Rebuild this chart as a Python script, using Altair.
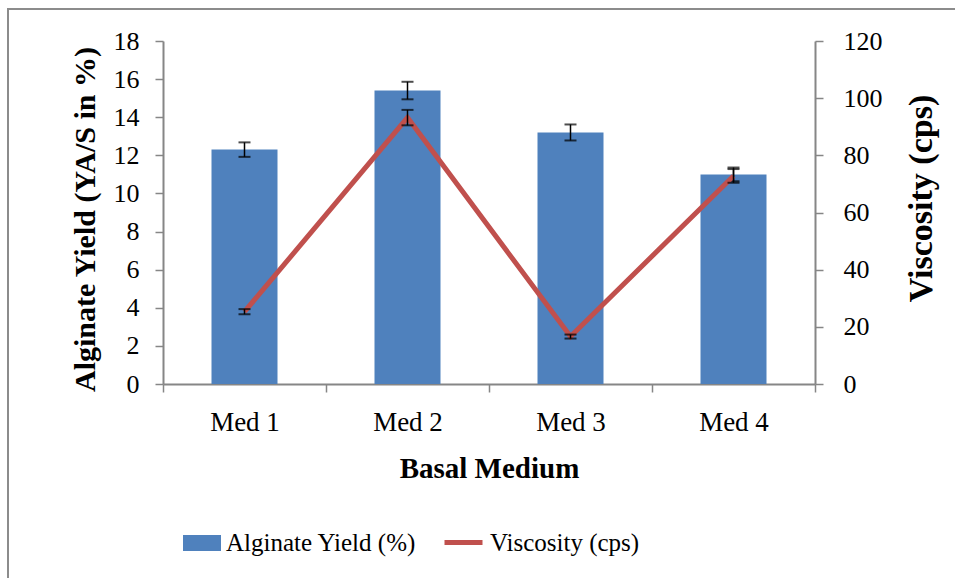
import altair as alt
import pandas as pd

categories = ["Med 1", "Med 2", "Med 3", "Med 4"]
yield_vals = [12.3, 15.4, 13.2, 11.0]
yield_err = [0.38, 0.46, 0.42, 0.36]
visc_vals = [25.3, 93.2, 16.6, 72.8]
visc_err = [0.9, 2.7, 0.7, 2.4]
yield_ticks = [0, 2, 4, 6, 8, 10, 12, 14, 16, 18]
visc_ticks = [0, 20, 40, 60, 80, 100, 120]

df = pd.DataFrame({
    "med": categories,
    "yield": yield_vals,
    "ylo": [v - e for v, e in zip(yield_vals, yield_err)],
    "yhi": [v + e for v, e in zip(yield_vals, yield_err)],
    "visc": visc_vals,
    "vlo": [v - e for v, e in zip(visc_vals, visc_err)],
    "vhi": [v + e for v, e in zip(visc_vals, visc_err)],
    "s1": "Alginate Yield (%)",
    "s2": "Viscosity (cps)",
})

FONT = "Liberation Serif"
AX = "#868686"
BLUE = "#4F81BD"
RED = "#C0504D"

x_axis = alt.Axis(
    title="Basal Medium", labelAngle=0, tickBand="extent",
    titleX=326, titleY=84, titleBaseline="middle", titleAnchor="middle",
    labelPadding=17, labelFontSize=27,
)
x_scale = alt.Scale(paddingInner=0, paddingOuter=0)


def xe():
    return alt.X("med:N", sort=categories, scale=x_scale, axis=x_axis)


left_axis = alt.Axis(
    title="Alginate Yield (YA/S  in %)", values=yield_ticks,
    titleX=-78, titleY=178, titleAngle=270, titleBaseline="middle",
    titleAlign="center", titleFontSize=30, labelOverlap=False,
    labelPadding=16,
)
left_scale = alt.Scale(domain=[0, 18], nice=False)


def yl(field):
    return alt.Y(field, scale=left_scale, axis=left_axis)


right_axis = alt.Axis(
    orient="right", title="Viscosity (cps)", values=visc_ticks,
    titleX=106, titleY=157, titleAngle=270, titleBaseline="middle",
    titleAlign="center", titleFontSize=34, labelOverlap=False,
    labelPadding=20,
)
right_scale = alt.Scale(domain=[0, 120], nice=False)


def yr(field):
    return alt.Y(field, scale=right_scale, axis=right_axis)


base = alt.Chart(df)

bars = base.mark_bar(size=66).encode(
    x=xe(),
    y=yl("yield:Q"),
    color=alt.Color(
        "s1:N",
        scale=alt.Scale(domain=["Alginate Yield (%)"], range=[BLUE]),
        legend=alt.Legend(
            title=None, orient="none", legendX=20, legendY=483,
            symbolType="M-1,-0.42H1V0.42H-1Z", symbolSize=1444,
            symbolStrokeWidth=0, labelOffset=5, labelFontSize=25,
            labelFont=FONT, labelColor="#000000", padding=0, labelLimit=400,
        ),
    ),
)
bar_err = base.mark_rule(color="black", strokeWidth=1.5).encode(
    x=xe(), y=yl("ylo:Q"), y2="yhi:Q"
)
bar_cap_lo = base.mark_tick(color="black", size=12, thickness=2).encode(
    x=xe(), y=yl("ylo:Q")
)
bar_cap_hi = base.mark_tick(color="black", size=12, thickness=2).encode(
    x=xe(), y=yl("yhi:Q")
)
left = alt.layer(bars, bar_err, bar_cap_lo, bar_cap_hi)

line = base.mark_line(strokeWidth=5).encode(
    x=xe(),
    y=yr("visc:Q"),
    stroke=alt.Stroke(
        "s2:N",
        scale=alt.Scale(domain=["Viscosity (cps)"], range=[RED]),
        legend=alt.Legend(
            title=None, orient="none", legendX=279, legendY=480,
            symbolType="stroke", symbolSize=1444, symbolStrokeWidth=5,
            labelOffset=5, labelFontSize=25, labelFont=FONT,
            labelColor="#000000", padding=0, labelLimit=400,
        ),
    ),
)
v_err = base.mark_rule(color="black", strokeWidth=1.5).encode(
    x=xe(), y=yr("vlo:Q"), y2="vhi:Q"
)
v_cap_lo = base.mark_tick(color="black", size=12, thickness=2).encode(
    x=xe(), y=yr("vlo:Q")
)
v_cap_hi = base.mark_tick(color="black", size=12, thickness=2).encode(
    x=xe(), y=yr("vhi:Q")
)
right = alt.layer(line, v_err, v_cap_lo, v_cap_hi)

frame = alt.Chart(alt.Data(values=[{"a": 1}])).mark_rect(
    fill=None, stroke="#8c8c8c", strokeWidth=2
).encode(
    x=alt.value(-155), x2=alt.value(830), y=alt.value(-32), y2=alt.value(560)
)

chart = alt.layer(frame, left, right).resolve_scale(
    y="independent", color="independent", stroke="independent"
).properties(
    width=652, height=343,
    autosize=alt.AutoSizeParams(type="none"),
    padding={"left": 163, "top": 41, "right": 140, "bottom": 194},
    background="white",
).configure_view(
    stroke=None
).configure_axis(
    domainColor=AX, domainWidth=2, tickColor=AX, tickWidth=1.5, tickSize=8,
    grid=False, labelFont=FONT, labelFontSize=26, labelColor="#000000",
    titleFont=FONT, titleFontWeight="bold", titleColor="#000000",
    titleFontSize=29,
)

chart.save("out.html", embed_options={"renderer": "svg", "actions": False})
